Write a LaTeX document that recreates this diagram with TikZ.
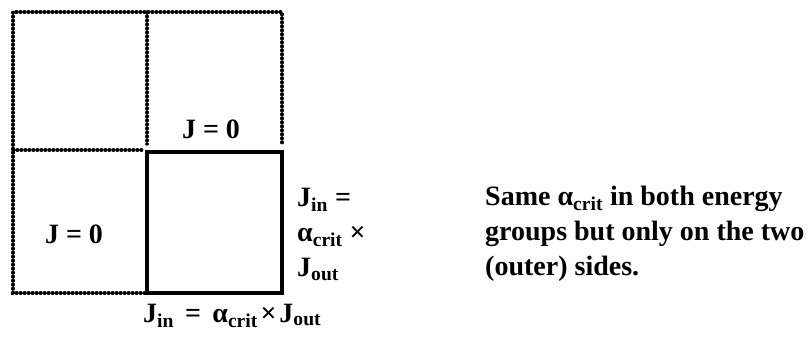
\documentclass[tikz,border=0pt]{standalone}
\usepackage{fontspec}
\setmainfont{Liberation Serif}
\begin{document}
\begin{tikzpicture}[x=1pt,y=-1pt,
  dotline/.style={line width=3.2pt, dash pattern=on 0.8pt off 3.2pt, line cap=round},
  solidline/.style={line width=3.4pt},
  lbl/.style={font=\fontsize{28}{35}\selectfont\bfseries, inner sep=0pt},
  note/.style={font=\fontsize{28}{35}\selectfont\bfseries, inner sep=0pt, align=left}]
\useasboundingbox (0,0) rectangle (809,340);
\coordinate (tl) at (13,12);
\coordinate (tm) at (147,12);
\coordinate (tr) at (282,12);
\coordinate (ml) at (13,150);
\coordinate (mm) at (144,150);
\coordinate (tmb) at (147,144);
\coordinate (trb) at (282,144);
\coordinate (bl) at (13,293);
\coordinate (bm) at (145,293);
\coordinate (sq1) at (147,152);
\coordinate (sq2) at (282,293);
\draw[dotline] (bm) -- (bl) -- (tl) -- (tr) -- (trb);
\draw[dotline] (tm) -- (tmb);
\draw[dotline] (ml) -- (mm);
\draw[solidline] (sq1) rectangle (sq2);
\node[lbl, anchor=base] (j1) at (211,138) {J = 0};
\node[lbl, anchor=base] (j2) at (74,243) {J = 0};
\node[note, anchor=north west] (jr) at (297,188) {J\textsubscript{in} =\\ α\textsubscript{crit} ×\\ J\textsubscript{out}};
\node[lbl, anchor=base west] (jb) at (143,322) {J\textsubscript{in}\hspace{0.15em} = \hspace{0.15em}α\textsubscript{crit}\hspace{0.1em}×\hspace{0.1em}J\textsubscript{out}};
\node[note, anchor=north west] (n) at (485,186) {Same α\textsubscript{crit} in both energy\\ groups but only on the two\\ (outer) sides.};
\end{tikzpicture}
\end{document}
